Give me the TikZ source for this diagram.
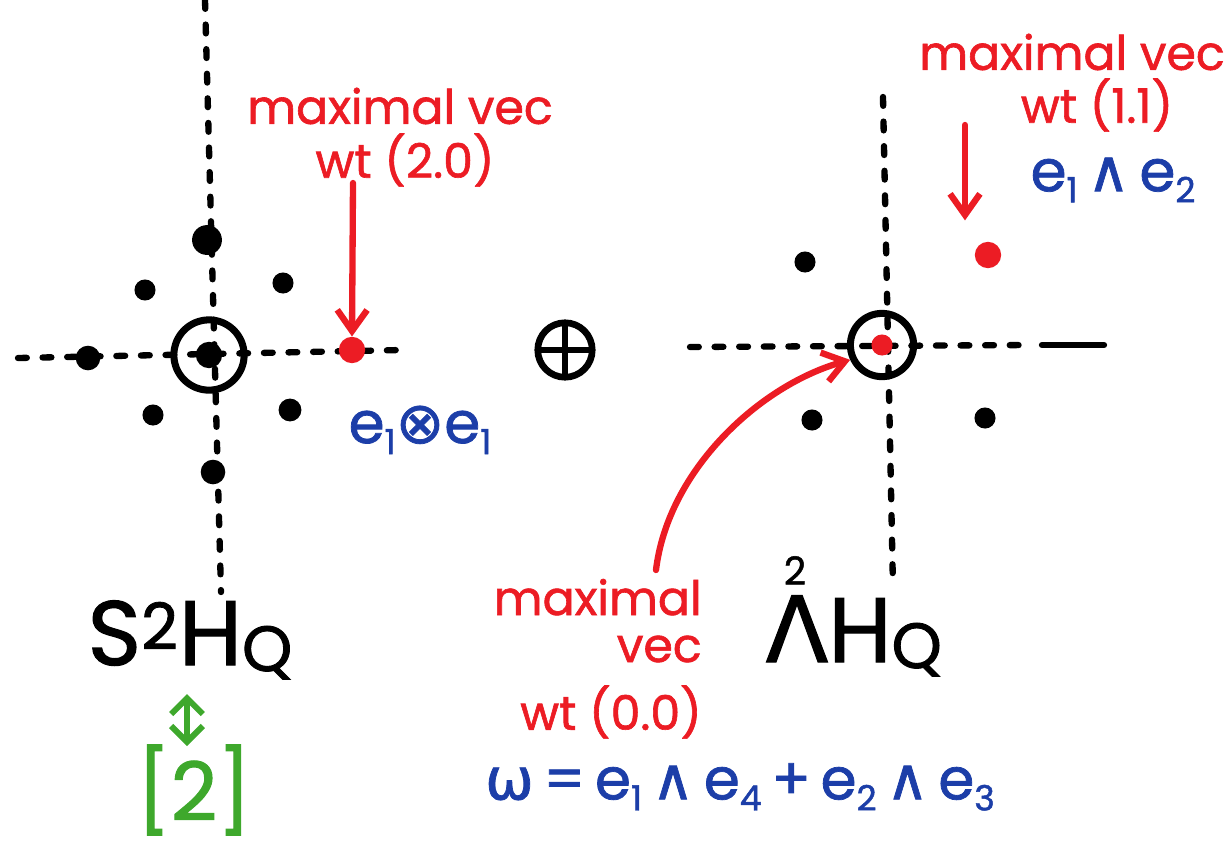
\documentclass[tikz,border=0pt]{standalone}
\usepackage{fontspec}
\usepackage{amsmath}
\setmainfont{Poppins}[UprightFeatures={FakeBold=1.3}]
\newfontfamily\sym{DejaVu Sans}[UprightFeatures={FakeBold=1.3}]
\usetikzlibrary{arrows.meta}
\definecolor{mred}{RGB}{236,28,36}
\definecolor{mblue}{RGB}{28,62,168}
\definecolor{mgreen}{RGB}{62,168,44}
\newcommand\lowidx[1]{\raisebox{-0.35ex}{\scalebox{0.6}{#1}}}
\newcommand\lowQ[1]{\raisebox{-0.12ex}{\scalebox{0.7}{#1}}}
\begin{document}
\begin{tikzpicture}[x=0.02cm,y=-0.02cm,
  axis/.style={line width=3.6pt,line cap=round,dash pattern=on 5pt off 9pt},
  ring/.style={circle,draw,line width=4pt,inner sep=0pt},
  dot/.style={circle,fill,inner sep=0pt,minimum size=12pt},
  rdot/.style={dot,fill=mred},
  redtxt/.style={text=mred,font=\fontsize{27}{30}\selectfont,inner sep=0pt},
  bluetxt/.style={text=mblue,font=\fontsize{33}{36}\selectfont,inner sep=0pt},
  bigtxt/.style={font=\fontsize{52}{58}\selectfont,inner sep=0pt},
  redarr/.style={draw=mred,line width=3.6pt,line cap=round,-{Straight Barb[length=12pt,width=17pt,line width=3.6pt]}},
  greenarr/.style={draw=mgreen,line width=3.6pt,line cap=round,{Straight Barb[length=9pt,width=18pt,line width=3.4pt]}-{Straight Barb[length=9pt,width=18pt,line width=3.4pt]}}
]
\useasboundingbox (0,0) rectangle (1231,853);
% ---------- left weight diagram ----------
\coordinate (lvt) at (205,0);
\coordinate (lvb) at (221,592);
\coordinate (lhl) at (18,358);
\coordinate (lhr) at (402,350);
\draw[axis] (lvt) -- (lvb);
\draw[axis] (lhl) -- (lhr);
\node[ring,minimum size=40pt] (lc) at (209,355) {};
\node[dot,minimum size=15pt] (l0) at (209,355) {};
\node[dot,minimum size=17pt] (lt) at (207,240) {};
\node[dot,minimum size=14pt] (lb) at (213,472) {};
\node[dot,minimum size=14pt] (ll) at (88,358) {};
\node[dot] (lul) at (145,290) {};
\node[dot] (lur) at (283,283) {};
\node[dot] (ldl) at (153,415) {};
\node[dot,minimum size=13pt] (ldr) at (290,410) {};
\node[rdot,minimum size=15pt] (lr) at (352,350) {};
\node[redtxt] (lmax) at (400,106) {maximal vec};
\node[redtxt] (lwt) at (405,160) {wt (2.0)};
\node[bluetxt] (le) at (420,430) {e\lowidx{1}{\sym ⊗}e\lowidx{1}};
\coordinate (lat) at (353,183);
\draw[redarr] (lat) -- (lr.north);
% ---------- direct sum ----------
\node[ring,line width=3.8pt,minimum size=31pt,
  path picture={\draw[line width=3.6pt] (path picture bounding box.west) -- (path picture bounding box.east)
  (path picture bounding box.north) -- (path picture bounding box.south);}] (plus) at (565,350) {};
% ---------- right weight diagram ----------
\coordinate (rvt) at (883,97);
\coordinate (rvb) at (893,588);
\coordinate (rhl) at (690,347);
\coordinate (rhr) at (1030,345);
\coordinate (rsl) at (1042,345);
\coordinate (rsr) at (1104,345);
\draw[axis] (rvt) -- (rvb);
\draw[axis] (rhl) -- (rhr);
\draw[line width=3.6pt,line cap=round] (rsl) -- (rsr);
\node[ring,minimum size=36pt] (rc) at (882,345) {};
\node[rdot,minimum size=12pt] (r0) at (882,345) {};
\node[dot] (rul) at (805,262) {};
\node[rdot,minimum size=15pt] (rur) at (988,255) {};
\node[dot] (rdl) at (812,420) {};
\node[dot] (rdr) at (985,418) {};
\node[redtxt] (rmax) at (1072,52) {maximal vec};
\node[redtxt] (rwt) at (1097,105) {wt (1.1)};
\node[bluetxt] (re) at (1113,180) {e\lowidx{1}\,{\sym\char"2227}\,e\lowidx{2}};
\coordinate (rat) at (965,125);
\draw[redarr,shorten >=12pt] (rat) -- (rat |- rur.north);
% ---------- bottom labels ----------
\node[bigtxt,anchor=base] (s2) at (190,665) {S\textsuperscript{2}H\lowQ{Q}};
\node[bigtxt,anchor=base] (l2sym) at (797,662) {{\sym Λ}};
\node[font=\fontsize{22}{24}\selectfont,inner sep=0pt,anchor=south] (l2idx) at (795,585) {2};
\node[bigtxt,anchor=base west] (l2) at (828,662) {H\lowQ{Q}};
\node[redtxt,anchor=base east] (cmax) at (702,615) {maximal};
\node[redtxt,anchor=base east] (cvec) at (702,662) {vec};
\node[redtxt] (cwt) at (611,712) {wt (0.0)};
\node[bluetxt] (om) at (740,787) {{\sym ω}\,=\,e\lowidx{1}\,{\sym\char"2227}\,e\lowidx{4}\,+\,e\lowidx{2}\,{\sym\char"2227}\,e\lowidx{3}};
\coordinate (cstart) at (656,570);
\draw[redarr] (cstart) .. controls (668,470) and (760,385) .. (rc.205);
\node[text=mgreen,font=\fontsize{46}{50}\selectfont,inner sep=0pt] (two) at (194,790) {[2]};
\coordinate (gt) at (187,694);
\coordinate (gb) at (187,746);
\draw[greenarr] (gt) -- (gb);
\end{tikzpicture}
\end{document}
